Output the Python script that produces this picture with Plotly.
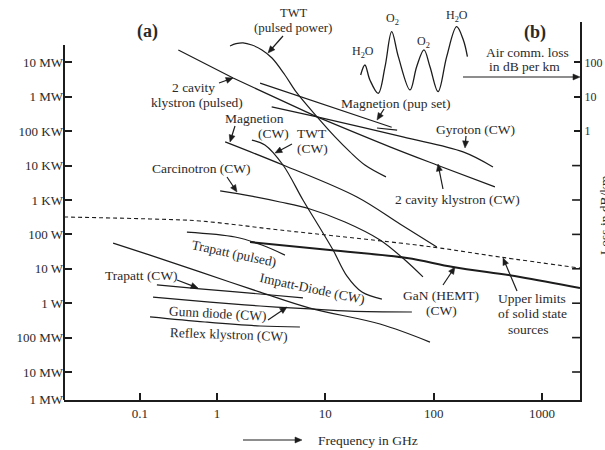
import math
import plotly.graph_objects as go

# ---------------- data ----------------
# frequency in GHz, power in W
klystron_pulsed_f = [0.44, 1.41, 8.4]
klystron_pulsed_p = [2.3e7, 3.5e6, 2.6e5]
klystron_cw_f = [8.4, 39.5, 107, 368]
klystron_cw_p = [2.6e5, 3.5e4, 1.04e4, 2.4e3]
gyrotron_f = [3.2, 8.4, 52, 187, 353]
gyrotron_p = [5.1e5, 2.6e5, 6.8e4, 2.5e4, 9.1e3]
magnetron_pulsed_f = [2.5, 41]
magnetron_pulsed_p = [2.5e6, 1.3e5]
magnetron_pulsed_tail_f = [30, 46]
magnetron_pulsed_tail_p = [1.24e5, 1.08e5]
twt_pulsed_f = [1.32, 1.50, 1.74, 2.10, 2.60, 3.22, 4.24, 5.47, 8.4, 12.3, 16.9, 23.2, 36.3]
twt_pulsed_p = [3.0e7, 3.5e7, 3.7e7, 3.2e7, 2.3e7, 1.34e7, 4.3e6, 1.29e6, 2.6e5, 6.8e4, 2.5e4, 1.04e4, 4.7e3]
magnetron_cw_f = [1.19, 4.07, 19.6, 48.9, 107]
magnetron_cw_p = [4.9e4, 1.04e4, 1.22e3, 200, 43]
twt_cw_f = [2.10, 2.77, 4.07, 6.22, 8.93, 11.8, 15.8, 21.8, 33.3]
twt_cw_p = [5.5e4, 4.0e4, 1.04e4, 1.0e3, 153, 35, 6.2, 2.1, 1.32]
carcinotron_f = [1.07, 2.02, 3.82, 7.21, 15.2, 32.0, 54.4, 79.7]
carcinotron_p = [1830, 1310, 875, 547, 230, 69, 18, 5.8]
solid_limit_f = [0.0387, 0.241, 0.697, 3.82, 48.9, 115, 409, 2244]
solid_limit_p = [321, 281, 245, 134, 56, 40, 22, 10.5]
trapatt_pulsed_f = [0.528, 1.47, 2.60, 4.24]
trapatt_pulsed_p = [117, 84, 49, 25]
gan_f = [2.02, 11.0, 56.7, 151, 627, 2244]
gan_p = [60, 35, 20.6, 11.3, 5.8, 2.77]
impatt_f = [0.110, 0.241, 0.697, 2.50, 7.21, 32.0, 92.5]
impatt_p = [56, 25, 8.1, 2.1, 0.72, 0.248, 0.074]
trapatt_cw_f = [0.279, 0.697, 2.50, 6.22]
trapatt_cw_p = [3.4, 2.6, 1.85, 1.42]
gunn_f = [0.257, 0.862, 2.50, 7.21, 16.9, 63]
gunn_p = [1.51, 1.08, 0.83, 0.68, 0.59, 0.555]
reflex_f = [0.241, 0.775, 2.50, 5.83]
reflex_p = [0.40, 0.284, 0.217, 0.203]
# atmospheric loss (right axis, dB/km)
air_loss_f = [21.2, 23.2, 25.8, 30.8, 35.6, 41.0, 47.2, 60.5, 69.7, 81.4, 92.5, 110, 132, 163, 188, 205]
air_loss_db = [43, 84, 30.8, 12.6, 75, 780, 147, 15.8, 75, 230, 75, 14.1, 147, 1090, 448, 147]

# tick labels (as printed in the original)
x_tick_vals = [0.1945, 1, 10, 100, 1000]   # "0.1" sits where the original draws it
x_tick_text = ["0.1", "1", "10", "100", "1000"]
y_tick_vals = [1e7, 1e6, 1e5, 1e4, 1e3, 100, 10, 1, 0.1, 0.01, 0.00155]
y_tick_text = ["10 MW", "1 MW", "100 KW", "10 KW", "1 KW", "100 W", "10 W", "1 W",
               "100 MW", "10 MW", "1 MW"]
y2_tick_vals = [100, 10, 1]
y2_tick_text = ["100", "10", "1"]
y2_unlabeled_vals = [0.1, 0.01, 1e-3, 1e-4, 1e-5, 1e-6, 1e-7]

X_MAX_LOG = 3.351

# ---------------- figure ----------------
INK = "#1c1c1c"
TXT = "#2a2a2a"
FONT = "Liberation Serif"

fig = go.Figure()


def add_line(f, p, width=1.2, dash=None, shape="linear", yaxis="y"):
    fig.add_trace(go.Scatter(x=f, y=p, mode="lines", yaxis=yaxis,
                             line=dict(color=INK, width=width, dash=dash, shape=shape),
                             hoverinfo="skip", showlegend=False))


add_line(klystron_pulsed_f, klystron_pulsed_p)
add_line(klystron_cw_f, klystron_cw_p, shape="spline")
add_line(gyrotron_f, gyrotron_p, shape="spline")
add_line(magnetron_pulsed_f, magnetron_pulsed_p)
add_line(magnetron_pulsed_tail_f, magnetron_pulsed_tail_p)
add_line(twt_pulsed_f, twt_pulsed_p, shape="spline")
add_line(magnetron_cw_f, magnetron_cw_p, shape="spline")
add_line(twt_cw_f, twt_cw_p, shape="spline")
add_line(carcinotron_f, carcinotron_p, shape="spline")
add_line(solid_limit_f, solid_limit_p, width=1.1, dash="4px,3px", shape="spline")
add_line(trapatt_pulsed_f, trapatt_pulsed_p, shape="spline")
add_line(gan_f, gan_p, width=2.0, shape="spline")
add_line(impatt_f, impatt_p, shape="spline")
add_line(trapatt_cw_f, trapatt_cw_p, shape="spline")
add_line(gunn_f, gunn_p, shape="spline")
add_line(reflex_f, reflex_p, shape="spline")
add_line(air_loss_f, air_loss_db, width=1.3, shape="spline", yaxis="y2")

# unlabeled tick marks of the right-hand axis (short marks just inside the axis)
fig.add_trace(go.Scatter(
    x=[10 ** (X_MAX_LOG - 0.028)] * len(y2_unlabeled_vals), y=y2_unlabeled_vals,
    yaxis="y2", mode="markers", cliponaxis=False, hoverinfo="skip", showlegend=False,
    marker=dict(symbol="line-ew", size=7, color=INK, line=dict(color=INK, width=1.6))))

# page geometry (body margin removed, page == figure)
W, H = 605, 450
# plot area in page pixels: left 64, right 580, top 22, bottom 400
L, R, T, B = 64, 580, 22, 400


def pxx(x):
    return (x - L) / (R - L)


def pxy(y):
    return (B - y) / (B - T)


FS = 13.5
labels = [
    ("(a)", 147, 31, 18, 0, True),
    ("(b)", 535, 32, 18, 0, True),
    ("TWT", 293, 12.5, 12.5, 0, False),
    ("(pulsed power)", 293, 27, 13, 0, False),
    ("2 cavity", 193, 87, FS, 0, False),
    ("klystron (pulsed)", 197, 102, FS, 0, False),
    ("Magnetion", 254, 118, FS, 0, False),
    ("(CW)", 273, 133, FS, 0, False),
    ("TWT", 312, 133, FS, 0, False),
    ("(CW)", 312, 148, FS, 0, False),
    ("Carcinotron (CW)", 201, 168, FS, 0, False),
    ("Magnetion (pup set)", 395, 103, FS, 0, False),
    ("Gyroton (CW)", 475, 129, FS, 0, False),
    ("2 cavity klystron (CW)", 457, 199, FS, 0, False),
    ("Trapatt (pulsed)", 234, 253, FS, 12, False),
    ("Impatt-Diode (CW)", 312, 288, FS, 12, False),
    ("Trapatt (CW)", 141, 275, FS, 0, False),
    ("Gunn diode (CW)", 217, 313, FS, 3, False),
    ("Reflex klystron (CW)", 229, 334, FS, 2, False),
    ("GaN (HEMT)", 441, 295, FS, 0, False),
    ("(CW)", 441, 310, FS, 0, False),
    ("Upper limits", 532, 298, FS, 0, False),
    ("of solid state", 532, 313, FS, 0, False),
    ("sources", 528, 329, FS, 0, False),
    ("H<sub>2</sub>O", 363, 52, 12, 0, False),
    ("O<sub>2</sub>", 392, 19, 12, 0, False),
    ("O<sub>2</sub>", 423, 42, 12, 0, False),
    ("H<sub>2</sub>O", 457, 16, 12, 0, False),
    ("Air comm. loss", 527, 52, FS, 0, False),
    ("in dB per km", 524, 66, FS, 0, False),
    ("Frequency in GHz", 368, 440, FS, 0, False),
]

annotations = []
for text, x, y, size, ang, bold in labels:
    annotations.append(dict(
        text=f"<b>{text}</b>" if bold else text, xref="paper", yref="paper",
        x=pxx(x), y=pxy(y), xanchor="center", yanchor="middle", showarrow=False,
        textangle=ang, font=dict(family=FONT, size=size, color=TXT)))

# rotated right-axis title, partly cut by the page edge as in the original
annotations.append(dict(text="Loss in dB/km", xref="paper", yref="paper",
                        x=pxx(604), y=pxy(215), xanchor="center", yanchor="middle",
                        showarrow=False, textangle=-90,
                        font=dict(family=FONT, size=FS, color=TXT)))

# pointer arrows: (tail x, tail y, tip x, tip y) in page pixels
arrows = [
    (283, 36, 268, 53),
    (219, 83, 233, 78),
    (235, 126, 230, 142),
    (292, 144, 275, 153),
    (227, 177, 237, 192),
    (384, 109, 377, 120),
    (466, 136, 465, 148),
    (443, 189, 438, 164),
    (177, 280, 198, 288),
    (268, 320, 287, 307),
    (443, 285, 455, 267),
    (517, 291, 503, 258),
    (463, 77, 580, 77),
    (243, 440, 302, 440),
]

shapes = [dict(type="line", xref="paper", yref="paper", x0=0, x1=0, y0=0, y1=pxy(45),
               line=dict(color=INK, width=2))]
HEAD_L, HEAD_W = 7, 3
for tx, ty, hx, hy in arrows:
    d = math.hypot(hx - tx, hy - ty)
    ux, uy = (hx - tx) / d, (hy - ty) / d
    bx, by = hx - ux * HEAD_L, hy - uy * HEAD_L
    shapes.append(dict(type="line", xref="paper", yref="paper",
                       x0=pxx(tx), y0=pxy(ty), x1=pxx(bx + ux), y1=pxy(by + uy),
                       line=dict(color=INK, width=1.2)))
    p1 = (bx - uy * HEAD_W, by + ux * HEAD_W)
    p2 = (bx + uy * HEAD_W, by - ux * HEAD_W)
    path = (f"M {pxx(hx)} {pxy(hy)} L {pxx(p1[0])} {pxy(p1[1])} "
            f"L {pxx(p2[0])} {pxy(p2[1])} Z")
    shapes.append(dict(type="path", xref="paper", yref="paper", path=path,
                       fillcolor=INK, line=dict(color=INK, width=0.5)))

axis_font = dict(family=FONT, size=13, color=TXT)

fig.update_layout(
    width=W, height=H,
    margin=dict(l=L, r=W - R, t=T, b=H - B, autoexpand=False),
    paper_bgcolor="white", plot_bgcolor="white",
    showlegend=False,
    xaxis=dict(type="log", range=[-1.412, X_MAX_LOG], tickvals=x_tick_vals, ticktext=x_tick_text,
               ticks="inside", ticklen=7, tickwidth=1.5, tickcolor=INK, automargin=False,
               showline=True, linewidth=2, linecolor=INK, showgrid=False, zeroline=False,
               tickfont=axis_font),
    yaxis=dict(type="log", range=[-2.814, 8.174], tickvals=y_tick_vals, ticktext=y_tick_text,
               ticks="inside", ticklen=8, tickwidth=2, tickcolor=INK, automargin=False,
               showline=False, showgrid=False, zeroline=False, tickfont=axis_font),
    yaxis2=dict(type="log", range=[-7.814, 3.174], overlaying="y", side="right",
                tickvals=y2_tick_vals, ticktext=y2_tick_text, automargin=False,
                ticks="inside", ticklen=6, tickwidth=1.5, tickcolor=INK,
                showline=True, linewidth=2, linecolor=INK, showgrid=False, zeroline=False,
                tickfont=dict(family=FONT, size=12, color=TXT)),
    annotations=annotations,
    shapes=shapes,
)

# remove the browser's default body margin so the 605x450 figure fills the window
fig.write_html("out.html", config={"displayModeBar": False},
               post_script="document.body.style.margin='0px';")
